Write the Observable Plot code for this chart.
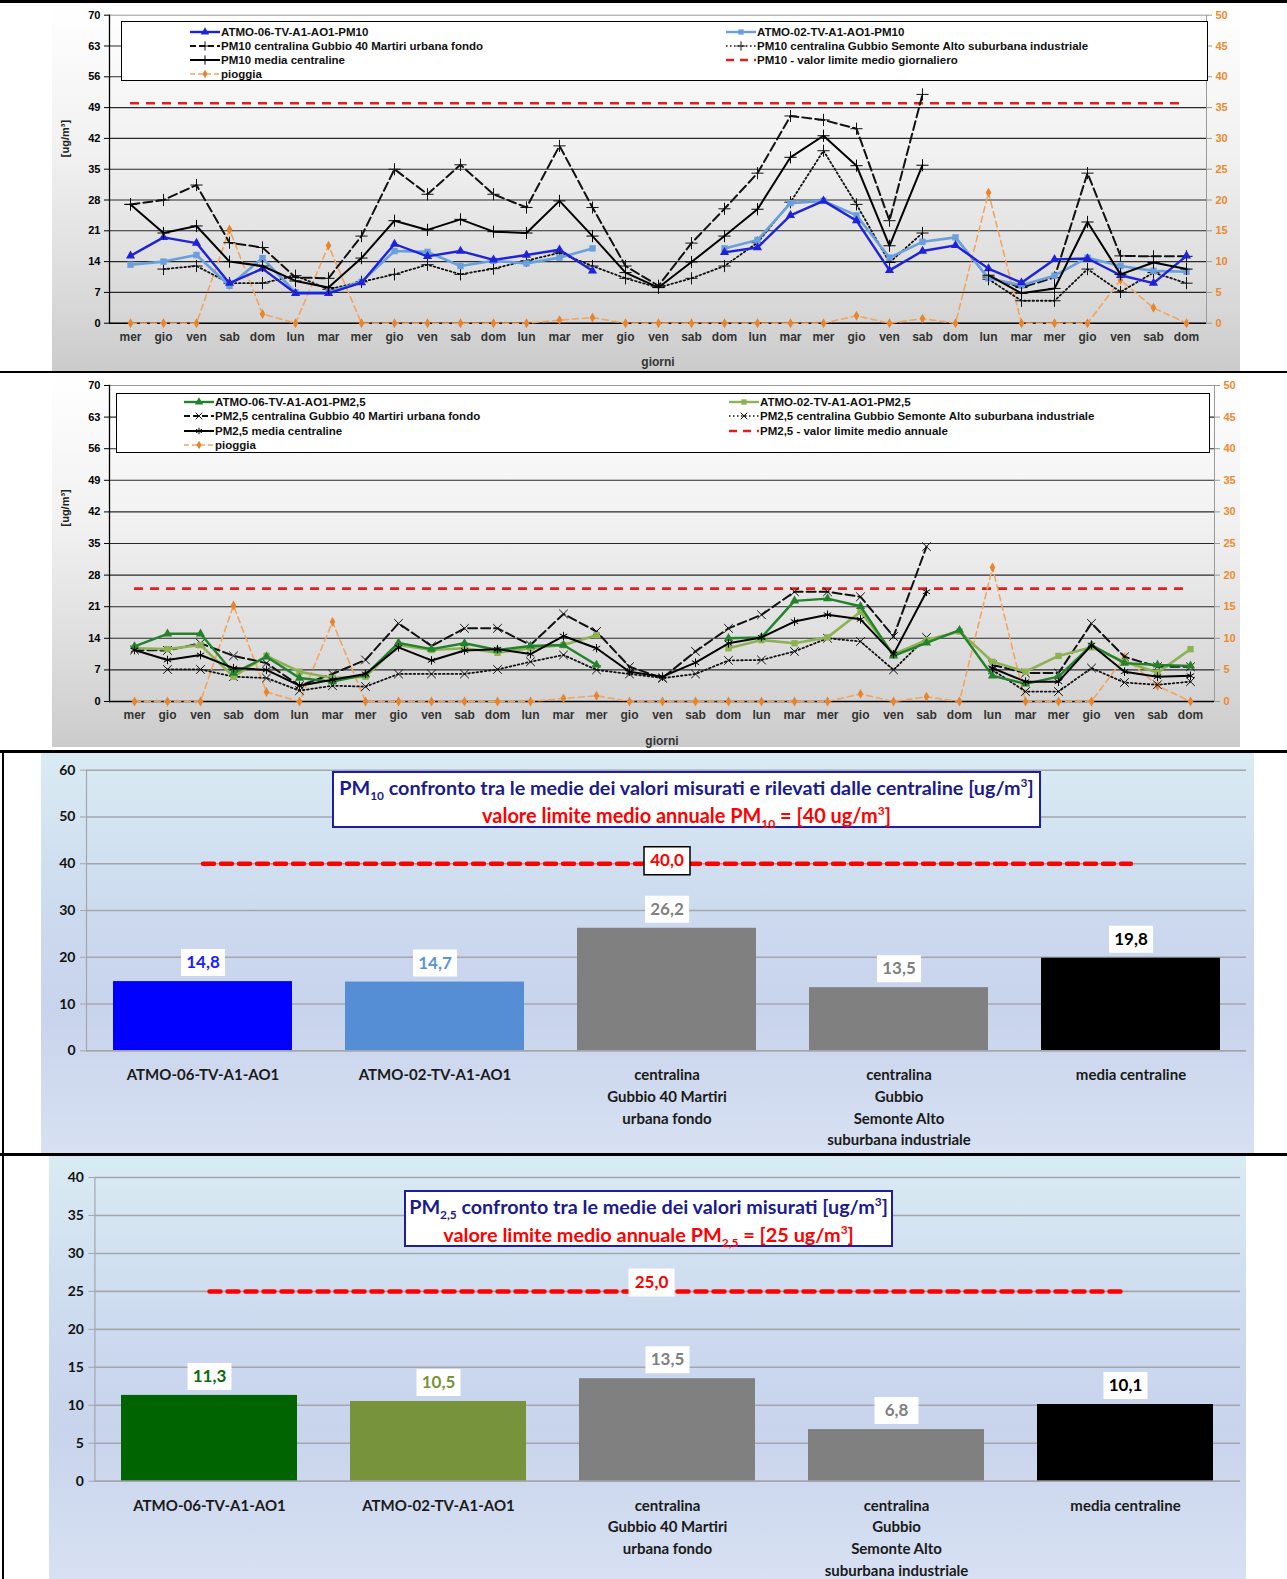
<!DOCTYPE html>
<html><head><meta charset="utf-8">
<script src="https://cdn.jsdelivr.net/npm/d3@7"></script>
<script src="https://cdn.jsdelivr.net/npm/@observablehq/plot@0.6"></script>
<style>
body{margin:0;background:#fff;}
#page{position:relative;width:1287px;height:1579px;overflow:hidden;font-family:"Liberation Sans",Arial,sans-serif;}
.bar{position:absolute;background:#000;}
.legend{position:absolute;background:#fff;border:1px solid #000;box-sizing:border-box;font:bold 11.5px "Liberation Sans",Arial,sans-serif;color:#111;}
.legend .item{position:absolute;display:flex;align-items:center;white-space:nowrap;height:14px;}
.legend svg{display:block;}
.title{position:absolute;background:#fff;border:2px solid #1f1f9c;box-sizing:border-box;text-align:center;font-family:Lato,"Open Sans",sans-serif;font-weight:bold;}
.title div{white-space:nowrap;line-height:27px;}
.title sub,.title sup{font-size:0.6em;line-height:0;}
</style></head><body><div id="page"></div>
<script>
// ---------------- DATA ----------------
const days = ["mer","gio","ven","sab","dom","lun","mar","mer","gio","ven","sab","dom","lun","mar","mer","gio","ven","sab","dom","lun","mar","mer","gio","ven","sab","dom","lun","mar","mer","gio","ven","sab","dom"];

const pm10Atmo06  = [15.3,19.5,18.2,9.1,12.4,6.8,6.8,9.2,18.0,15.2,16.4,14.4,15.5,16.7,11.9,null,null,null,16.1,17.2,24.5,27.8,23.3,12.0,16.4,17.7,12.4,9.2,14.5,14.7,10.9,9.1,15.3];
const pm10Atmo02  = [13.3,14.0,15.5,8.5,14.8,7.0,7.0,9.4,16.4,16.2,13.0,14.2,13.6,14.9,17.0,null,null,null,17.0,18.9,27.3,27.8,24.5,14.9,18.5,19.5,10.2,8.6,10.8,14.9,13.0,11.9,11.7];
const pm10Martiri = [27.0,28.0,31.4,18.3,17.2,10.4,10.2,19.8,35.0,29.3,36.0,29.3,26.3,40.3,26.3,13.0,8.5,18.2,26.0,34.1,47.1,46.2,44.2,23.3,52.0,null,10.5,8.1,10.4,34.1,15.3,15.2,15.2];
const pm10Semonte = [null,12.3,13.0,9.1,9.1,10.8,7.7,9.4,11.1,13.3,11.1,12.4,14.2,16.0,13.0,10.2,8.1,10.2,13.0,18.3,27.5,39.2,27.0,13.8,20.5,null,10.0,5.1,5.1,12.3,7.1,11.5,9.1];
const pm10Media   = [27.0,20.5,22.1,14.0,13.0,9.6,8.1,14.8,23.3,21.2,23.6,20.8,20.5,27.8,19.8,11.5,8.1,13.9,19.8,25.9,37.7,42.6,35.8,17.6,35.9,null,10.9,6.8,7.9,23.0,11.1,13.8,12.3];
const pioggia     = [0,0,0,15.2,1.5,0,12.6,0,0,0,0,0,0,0.5,0.9,0,0,0,0,0,0,0,1.2,0,0.75,0,21.2,0,0,0,7.0,2.5,0];
const pm10DailyLimit = 50;

const pm25Atmo06  = [12.2,15.0,15.0,6.3,9.9,5.2,4.4,5.9,13.0,11.6,12.9,11.4,12.3,12.5,8.1,null,null,null,14.0,14.2,22.3,22.8,21.1,10.1,13.0,15.8,5.7,3.9,5.5,12.5,8.5,8.1,7.9];
const pm25Atmo02  = [11.8,11.6,12.5,5.5,10.1,6.6,5.2,5.5,12.5,11.4,11.8,10.8,11.8,12.5,14.7,null,null,null,11.8,13.6,12.9,14.2,19.9,10.5,13.6,15.5,8.8,6.6,10.1,12.0,8.8,6.4,11.6];
const pm25Martiri = [11.4,11.3,12.9,10.1,8.5,3.5,6.1,9.2,17.3,12.3,16.2,16.2,12.5,19.4,15.5,7.7,5.2,11.1,16.2,19.2,24.3,24.3,23.2,14.4,34.3,null,8.1,6.3,6.3,17.3,9.9,7.7,7.7];
const pm25Semonte = [null,7.1,7.1,5.5,5.2,2.4,3.5,3.3,6.1,6.1,6.1,7.1,8.8,10.3,7.0,6.1,5.2,6.1,9.1,9.2,11.1,14.0,13.3,7.0,14.2,null,7.0,2.2,2.2,7.4,4.2,3.7,4.4];
const pm25Media   = [11.4,9.2,10.3,7.4,7.0,3.5,4.8,6.1,12.0,9.1,11.3,11.6,10.5,14.5,11.8,6.6,5.5,8.6,12.9,14.2,17.7,19.2,18.2,10.5,24.3,null,7.4,4.4,4.4,12.5,6.6,5.5,5.7];
const pm25AnnualLimit = 25;

const leftTicks  = [0,7,14,21,28,35,42,49,56,63,70];
const rightTicks = [0,5,10,15,20,25,30,35,40,45,50];

const barCats = ["ATMO-06-TV-A1-AO1","ATMO-02-TV-A1-AO1","centralina\nGubbio 40 Martiri\nurbana fondo","centralina\nGubbio\nSemonte Alto\nsuburbana industriale","media centraline"];
const pm10Means = [14.8,14.7,26.2,13.5,19.8];
const pm25Means = [11.3,10.5,13.5,6.8,10.1];
const pm10AnnualLimit = 40;
const pm25AnnualLimitBar = 25;
const pm10BarTicks = [0,10,20,30,40,50,60];
const pm25BarTicks = [0,5,10,15,20,25,30,35,40];

// ---------------- HELPERS ----------------
const page = document.getElementById("page");
const fmt = v => v.toFixed(1).replace(".", ",");
function place(node, left, top){ node.style.position="absolute"; node.style.left=left+"px"; node.style.top=top+"px"; page.appendChild(node); return node; }
function hbar(top,h,left=0,w=1287){ const d=document.createElement("div"); d.className="bar"; Object.assign(d.style,{top:top+"px",height:h+"px",left:left+"px",width:w+"px"}); page.appendChild(d); }

const C = {
  blue:"#1e22d8", lblue:"#6a9fde", dgreen:"#23832a", lgreen:"#8db253",
  orange:"#f2a561", orangeDot:"#e8842a", red:"#e3201b", axisOrange:"#ec8a2e"
};

function lineChart(o){
  const rows = days.map((d,i)=>({i, a:o.s[0][i], b:o.s[1][i], m:o.s[2][i], s:o.s[3][i], med:o.s[4][i], rain:pioggia[i]}));
  const k = leftTicks[leftTicks.length-1]/rightTicks[rightTicks.length-1];
  const mk = [];
  mk.push(Plot.ruleY(leftTicks.slice(1,-1), {stroke:"#2a2a2a", strokeWidth:1.1}));
  mk.push(Plot.frame({stroke:"#9a9a9a"}));
  mk.push(Plot.frame({anchor:"left", stroke:"#000", strokeWidth:1.3}));
  mk.push(Plot.ruleY([0], {stroke:"#000", strokeWidth:1.5}));
  mk.push(Plot.axisY({ticks:leftTicks, tickSize:5, tickPadding:4, fontSize:11, label:null}));
  mk.push(Plot.axisY({anchor:"right", ticks:leftTicks, tickFormat:d=>d/k, tickSize:5, tickPadding:4, fontSize:11, fill:C.axisOrange, stroke:"#999", label:null}));
  mk.push(Plot.axisX({tickFormat:i=>days[i], tickSize:0, tickPadding:9, fontSize:12, fill:"#333", label:null}));
  mk.push(Plot.text(["giorni"], {frameAnchor:"bottom", dy:43, fontSize:12, fill:"#333"}));
  mk.push(Plot.text([o.ylabel], {frameAnchor:"left", dx:-44, dy:o.ylabelDy, rotate:-90, fontSize:11, fill:"#222"}));
  // limit line
  mk.push(Plot.ruleY([o.limit], {x1:0, x2:days.length-1, stroke:C.red, strokeWidth:2.6, strokeDasharray:"9,7"}));
  // rain
  mk.push(Plot.line(rows, {x:"i", y:d=>d.rain*k, stroke:C.orange, strokeWidth:1.6, strokeDasharray:"6,4"}));
  mk.push(Plot.dot(rows, {x:"i", y:d=>d.rain*k, symbol:"diamond", fill:C.orangeDot, r:3}));
  // stations
  mk.push(Plot.line(rows, {x:"i", y:"s", stroke:"#111", strokeWidth:1.8, strokeDasharray:"1.6,2.6"}));
  mk.push(Plot.dot(rows, {x:"i", y:"s", symbol:o.crossSym, stroke:"#111", strokeWidth:1, r:4}));
  mk.push(Plot.line(rows, {x:"i", y:"m", stroke:"#111", strokeWidth:2, strokeDasharray:"9,4"}));
  mk.push(Plot.dot(rows, {x:"i", y:"m", symbol:o.crossSym, stroke:"#111", strokeWidth:1, r:4}));
  mk.push(Plot.line(rows, {x:"i", y:"b", stroke:o.c2, strokeWidth:2.6}));
  mk.push(Plot.dot(rows, {x:"i", y:"b", symbol:"square", fill:o.c2, r:3.6}));
  mk.push(Plot.line(rows, {x:"i", y:"a", stroke:o.c1, strokeWidth:2.4}));
  mk.push(Plot.dot(rows, {x:"i", y:"a", symbol:"triangle", fill:o.c1, r:3.4}));
  mk.push(Plot.line(rows, {x:"i", y:"med", stroke:"#000", strokeWidth:2}));
  mk.push(Plot.dot(rows, {x:"i", y:"med", symbol:o.medSym, stroke:"#000", strokeWidth:1, r:4}));
  const svg = Plot.plot({
    width:o.width, height:o.height, marginTop:o.mt, marginBottom:o.mb, marginLeft:o.ml, marginRight:o.mr,
    style:{background:"linear-gradient(180deg,#ffffff 0%,#f1f1f1 40%,#d9d9d9 80%,#cbcbcb 100%)", fontFamily:"'Liberation Sans',Arial,sans-serif", fontWeight:"bold", overflow:"visible"},
    x:{type:"point", domain:d3.range(days.length), padding:o.pad},
    y:{domain:[leftTicks[0], leftTicks[leftTicks.length-1]]},
    marks:mk
  });
  place(svg, o.left, o.top);
}

function swatch(it){
  const w=30, h=12;
  const s = d3.create("svg").attr("width",w).attr("height",h).style("margin-right","1px");
  s.append("line").attr("x1",0).attr("x2",w).attr("y1",h/2).attr("y2",h/2)
    .attr("stroke",it.stroke).attr("stroke-width",it.sw||2).attr("stroke-dasharray",it.dash||null);
  if (it.sym) s.append("path").attr("transform",`translate(${w/2},${h/2})`)
    .attr("d", d3.symbol(it.sym, it.size||28)()).attr("fill",it.fill||"none").attr("stroke",it.symStroke||"none").attr("stroke-width",1);
  return s.node();
}
function legend(left, top, width, height, items){
  const box = document.createElement("div"); box.className="legend";
  Object.assign(box.style,{width:width+"px",height:height+"px"});
  for (const it of items){
    const row = document.createElement("div"); row.className="item";
    row.style.left = it.x+"px"; row.style.top = (it.y-7)+"px";
    row.append(swatch(it));
    const t = document.createElement("span"); t.textContent = it.label; row.append(t);
    box.append(row);
  }
  place(box, left, top);
}

function titleBox(left, top, width, height, l1, l2, w1, w2){
  const box = document.createElement("div"); box.className="title";
  Object.assign(box.style,{width:width+"px",height:height+"px",paddingTop:"1px"});
  const mk = (html,color,target)=>{ const d=document.createElement("div"); const s=document.createElement("span"); s.innerHTML=html; s.style.fontSize="17px"; d.style.color=color; d.append(s); box.append(d); return [s,target]; };
  const a = mk(l1,"#1b1b8e",w1), b = mk(l2,"#ff0000",w2);
  place(box,left,top);
  for (const [s,t] of [a,b]){ const w=s.getBoundingClientRect().width; s.style.fontSize=(17*t/w)+"px"; }
}

function barChart(o){
  const rows = barCats.map((c,i)=>({cat:c, v:o.values[i], color:o.colors[i], lc:o.labelColors[i]}));
  const limitRows = [{cat:barCats[0], v:o.limit},{cat:barCats[barCats.length-1], v:o.limit}];
  const vbox = {draw(ctx){ ctx.rect(-22,-13.5,44,27); }};
  const lbox = {draw(ctx){ ctx.rect(-23,-14,46,28); }};
  const top = o.ticks[o.ticks.length-1];
  const svg = Plot.plot({
    width:o.width, height:o.height, marginTop:o.mt, marginBottom:o.mb, marginLeft:o.ml, marginRight:o.mr,
    style:{background:"linear-gradient(180deg,#d9ebf3 0%,#cbd8ee 45%,#c8d4ec 65%,#d8e1f3 100%)", fontFamily:"Lato,'Open Sans',sans-serif", fontWeight:"bold", overflow:"visible", color:"#111"},
    x:{domain:barCats, paddingInner:0.23, paddingOuter:0.115, axis:null},
    y:{domain:[0, top]},
    color:{type:"identity"},
    marks:[
      Plot.ruleY(o.ticks, {stroke:"#a3a6ad", strokeWidth:1.6}),
      Plot.frame({anchor:"left", stroke:"#a3a6ad", strokeWidth:1.2}),
      Plot.axisY({ticks:o.ticks, tickSize:6, tickPadding:5, fontSize:14, stroke:"#a3a6ad", label:null}),
      Plot.barY(rows, {x:"cat", y:"v", fill:"color"}),
      Plot.ruleY([0], {stroke:"#a3a6ad", strokeWidth:1.6}),
      Plot.line(limitRows, {x:"cat", y:"v", stroke:"#ff0000", strokeWidth:4.5, strokeDasharray:"11,7"}),
      Plot.dot([o.limit], {x:()=>barCats[2], y:d=>d, symbol:lbox, r:5, fill:"white", stroke:o.limitBoxStroke, strokeWidth:1.5, dx:o.limitDx, dy:o.limitDy}),
      Plot.text([o.limit], {x:()=>barCats[2], y:d=>d, text:d=>fmt(d), fill:"#ff0000", fontSize:17, dx:o.limitDx, dy:o.limitDy}),
      Plot.dot(rows, {x:"cat", y:"v", symbol:vbox, r:5, fill:"white", dy:-19}),
      Plot.text(rows, {x:"cat", y:"v", text:d=>fmt(d.v), fill:"lc", fontSize:17, dy:-19}),
      Plot.text(rows, {x:"cat", text:"cat", frameAnchor:"bottom", lineAnchor:"top", dy:o.catDy, lineHeight:1.45, fontSize:15, fill:"#1a1a1a"})
    ]
  });
  place(svg, o.left, o.top);
}

// ---------------- LINE CHARTS ----------------
lineChart({left:52, top:5, width:1188, height:367, mt:9.7, mb:49.3, ml:57, mr:34, pad:0.58,
  s:[pm10Atmo06, pm10Atmo02, pm10Martiri, pm10Semonte, pm10Media], c1:C.blue, c2:C.lblue,
  crossSym:"plus", medSym:"plus", limit:pm10DailyLimit, ylabel:"[ug/m³]", ylabelDy:-12});
legend(121, 21, 1087, 60, [
  {x:68, y:10, label:"ATMO-06-TV-A1-AO1-PM10", stroke:C.blue, sw:2.4, sym:d3.symbolTriangle, fill:C.blue, size:30},
  {x:68, y:24, label:"PM10 centralina Gubbio 40 Martiri urbana fondo", stroke:"#111", sw:1.8, dash:"6,3", sym:d3.symbolPlus, symStroke:"#111", size:30},
  {x:68, y:38, label:"PM10 media centraline", stroke:"#000", sw:2, sym:d3.symbolPlus, symStroke:"#000", size:30},
  {x:68, y:52, label:"pioggia", stroke:C.orange, sw:1.5, dash:"5,3", sym:d3.symbolDiamond, fill:C.orangeDot, size:22},
  {x:604, y:10, label:"ATMO-02-TV-A1-AO1-PM10", stroke:C.lblue, sw:2.4, sym:d3.symbolSquare, fill:C.lblue, size:28},
  {x:604, y:24, label:"PM10 centralina Gubbio Semonte Alto suburbana industriale", stroke:"#111", sw:1.6, dash:"1.5,2.5", sym:d3.symbolPlus, symStroke:"#111", size:30},
  {x:604, y:38, label:"PM10 - valor limite medio giornaliero", stroke:C.red, sw:2.4, dash:"8,6"}
]);

lineChart({left:52, top:375, width:1188, height:372, mt:10, mb:46, ml:57, mr:26, pad:0.54,
  s:[pm25Atmo06, pm25Atmo02, pm25Martiri, pm25Semonte, pm25Media], c1:C.dgreen, c2:C.lgreen,
  crossSym:"times", medSym:"asterisk", limit:pm25AnnualLimit, ylabel:"[ug/m³]", ylabelDy:-17});
legend(116, 393, 1094, 60, [
  {x:67, y:8, label:"ATMO-06-TV-A1-AO1-PM2,5", stroke:C.dgreen, sw:2.4, sym:d3.symbolTriangle, fill:C.dgreen, size:30},
  {x:67, y:22, label:"PM2,5 centralina Gubbio 40 Martiri urbana fondo", stroke:"#111", sw:1.8, dash:"6,3", sym:d3.symbolTimes, symStroke:"#111", size:30},
  {x:67, y:37, label:"PM2,5 media centraline", stroke:"#000", sw:2, sym:d3.symbolAsterisk, symStroke:"#000", size:30},
  {x:67, y:51, label:"pioggia", stroke:C.orange, sw:1.5, dash:"5,3", sym:d3.symbolDiamond, fill:C.orangeDot, size:22},
  {x:612, y:8, label:"ATMO-02-TV-A1-AO1-PM2,5", stroke:C.lgreen, sw:2.4, sym:d3.symbolSquare, fill:C.lgreen, size:28},
  {x:612, y:22, label:"PM2,5 centralina Gubbio  Semonte Alto suburbana industriale", stroke:"#111", sw:1.6, dash:"1.5,2.5", sym:d3.symbolTimes, symStroke:"#111", size:30},
  {x:612, y:37, label:"PM2,5 - valor limite medio annuale", stroke:C.red, sw:2.4, dash:"8,6"}
]);

// ---------------- BAR CHARTS ----------------
barChart({left:41, top:753, width:1213, height:402, mt:16.7, mb:104.7, ml:45, mr:8,
  values:pm10Means, ticks:pm10BarTicks, limit:pm10AnnualLimit,
  colors:["#0000ff","#558ed5","#808080","#808080","#000000"],
  labelColors:["#1c1cff","#5b93d8","#808080","#808080","#000000"],
  limitBoxStroke:"#000", limitDx:0, limitDy:-3, catDy:14});
titleBox(332, 771, 709, 57,
  "PM<sub>10</sub> confronto tra le medie dei valori misurati e rilevati dalle centraline [ug/m<sup>3</sup>]",
  "valore limite medio annuale PM<sub>10</sub> = [40 ug/m<sup>3</sup>]", 695, 409);

barChart({left:49, top:1155, width:1197, height:424, mt:22, mb:98.3, ml:45.4, mr:6,
  values:pm25Means, ticks:pm25BarTicks, limit:pm25AnnualLimitBar,
  colors:["#006400","#77933c","#808080","#808080","#000000"],
  labelColors:["#0b6b0b","#77933c","#808080","#808080","#000000"],
  limitBoxStroke:"none", limitDx:-16, limitDy:-9, catDy:14});
titleBox(404, 1190, 489, 57,
  "PM<sub>2,5</sub> confronto tra le medie dei valori misurati [ug/m<sup>3</sup>]",
  "valore limite medio annuale PM<sub>2,5</sub> = [25 ug/m<sup>3</sup>]", 479, 411);

// frame lines
hbar(0,3); hbar(371,2); hbar(750,3); hbar(1153,3);
const v = document.createElement("div"); v.className="bar"; Object.assign(v.style,{left:"2px",top:"750px",width:"2px",height:"829px"}); page.appendChild(v);
</script></body></html>
